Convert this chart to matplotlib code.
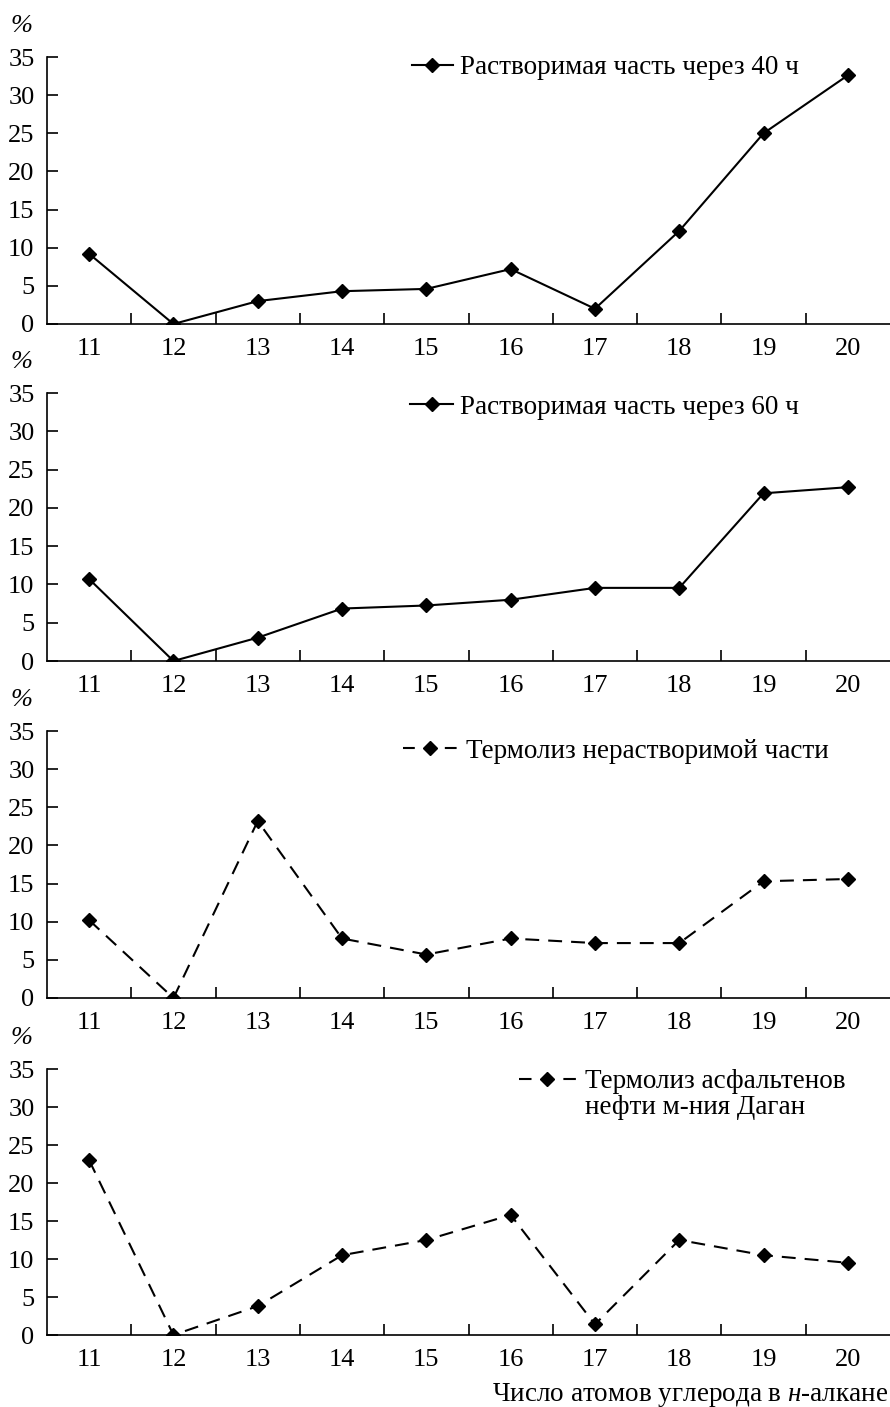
import numpy as np
import matplotlib
matplotlib.use("Agg")
import matplotlib.pyplot as plt

plt.rcParams['font.family'] = ['Liberation Serif', 'DejaVu Serif']
plt.rcParams['mathtext.fontset'] = 'custom'
plt.rcParams['mathtext.rm'] = 'Liberation Serif'
plt.rcParams['mathtext.it'] = 'Liberation Serif:italic'
plt.rcParams['lines.scale_dashes'] = False

# число атомов углерода
atomy = [11, 12, 13, 14, 15, 16, 17, 18, 19, 20]

rastv_40 = [9.2, 0.0, 3.0, 4.3, 4.6, 7.2, 2.0, 12.2, 25.0, 32.6]
rastv_60 = [10.7, 0.0, 3.05, 6.85, 7.25, 8.0, 9.55, 9.55, 21.9, 22.7]
nerastv = [10.2, 0.0, 23.2, 7.8, 5.7, 7.8, 7.2, 7.2, 15.3, 15.6]
dagan = [23.0, 0.0, 3.8, 10.5, 12.5, 15.8, 1.4, 12.5, 10.5, 9.5]

rotulos = ["Растворимая часть через 40 ч",
           "Растворимая часть через 60 ч",
           "Термолиз нерастворимой части",
           "Термолиз асфальтенов"]

W, H = 890, 1407
fig = plt.figure(figsize=(W / 100, H / 100), dpi=100)

# (topo, base) de cada painel em pixels
paineis = [(57, 324), (393, 661), (731, 998), (1069, 1335)]
series = [rastv_40, rastv_60, nerastv, dagan]
tracejado = [False, False, True, True]
# legenda: inicio do traço (px), centro y (px), comprimento, pad
legendas = [(412, 68, 1.5, 0.26), (410, 407, 1.6, 0.26),
            (403, 751, 1.98, 0.33), (519, 1082, 2.1, 0.33)]

fs = 19.5   # legenda / rótulo
ft = 19     # ticks
x0 = 47
for i, (topo, base) in enumerate(paineis):
    ax = fig.add_axes([x0 / W, 1 - base / H, (W - x0) / W, (base - topo) / H])
    ls = (0, (10, 6.5)) if tracejado[i] else '-'
    ax.plot(atomy, series[i], color='black', lw=1.5, ls=ls, marker='D',
            markersize=7, markerfacecolor='black', markeredgecolor='black',
            label=rotulos[i])
    ax.set_xlim(10.5, 20.5)
    ax.set_ylim(0, 35)
    ax.spines['top'].set_visible(False)
    ax.spines['right'].set_visible(False)
    for s in ['left', 'bottom']:
        ax.spines[s].set_linewidth(1.2)
    ax.set_yticks(range(0, 36, 5))
    ax.tick_params(axis='y', direction='in', length=8, width=1.2, pad=9, labelsize=ft)
    ax.set_xticks(np.arange(11.5, 20.5, 1.0))
    ax.set_xticklabels([])
    ax.set_xticks(atomy, minor=True)
    ax.set_xticklabels([str(a) for a in atomy], minor=True)
    ax.tick_params(axis='x', which='major', direction='in', length=8, width=1.2)
    ax.tick_params(axis='x', which='minor', length=0, pad=10, labelsize=ft)

    fig.text(11 / W, 1 - (topo - 31) / H, "%", fontsize=19, fontstyle='italic',
             ha='left', va='center')

    lx, ly, hl, tp = legendas[i]
    leg = ax.legend(loc='center left',
                    bbox_to_anchor=((lx - x0) / (W - x0), (base - ly) / (base - topo)),
                    frameon=False, fontsize=fs, handlelength=hl, handletextpad=tp,
                    borderpad=0, borderaxespad=0, numpoints=1)
    if tracejado[i]:
        comp = hl * fs
        leg.get_lines()[0].set_dashes((comp * 0.22, comp * 0.56))

    if i == 3:
        ax.text((585 - x0) / (W - x0), (base - 1108) / (base - topo),
                "нефти м-ния Даган", fontsize=fs, ha='left', va='center',
                transform=ax.transAxes)

fig.text(888 / W, 1 - 1395 / H, "Число атомов углерода в $\\mathit{н}$-алкане",
         fontsize=fs, ha='right', va='center')

fig.savefig("out.png", dpi=100)
